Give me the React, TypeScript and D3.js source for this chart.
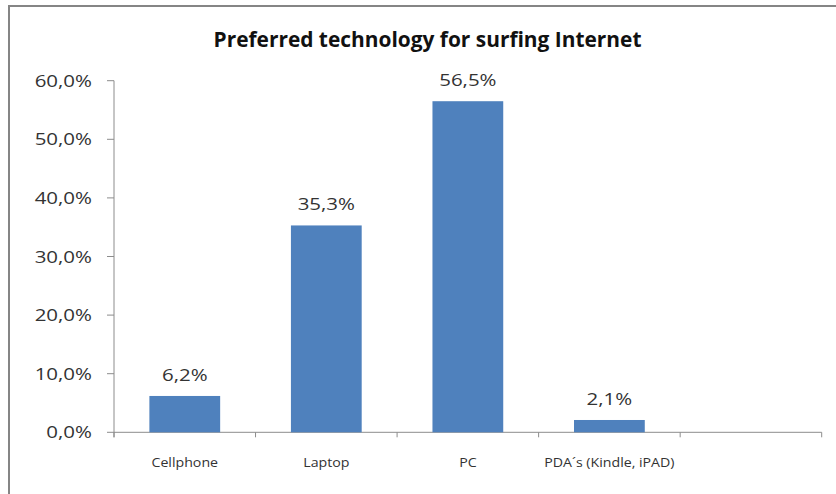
import React from "react";
import * as d3 from "d3";

// Survey results: preferred device for browsing the web
const categories = ["Cellphone", "Laptop", "PC", "PDA´s (Kindle, iPAD)", ""];
const shares = [6.2, 35.3, 56.5, 2.1, null];
const yTicks = [0, 10, 20, 30, 40, 50, 60];
const title = "Preferred technology for surfing Internet";

const W = 836;
const H = 494;
const plot = { left: 114, right: 821.7, top: 80.7, bottom: 432.3 };
const FONT = "'Open Sans', 'Noto Sans', sans-serif";
const TEXT = "#333333";
const AXIS = "#8c8c8c";
const BAR = "#4f81bd";
const SX = 1.22; // horizontal stretch applied to text

const fmt = (v: number) => v.toFixed(1).replace(".", ",") + "%";

export default function App() {
  const x = d3
    .scaleBand<string>()
    .domain(categories.map((c, i) => String(i)))
    .range([plot.left, plot.right])
    .paddingInner(0.5)
    .paddingOuter(0.25);
  const y = d3.scaleLinear().domain([0, 60]).range([plot.bottom, plot.top]);
  const step = x.step();
  const boundaries = d3.range(categories.length + 1).map((i) => plot.left + i * step);

  return (
    <svg
      width={W}
      height={H}
      style={{ position: "absolute", left: 0, top: 0, background: "#fff" }}
      fontFamily={FONT}
    >
      <rect x={9} y={6} width={W} height={H} fill="#fff" stroke="#858585" strokeWidth={2} />

      <text
        transform={`translate(${427.5},${47.3}) scale(1.02,1)`}
        textAnchor="middle"
        fontSize={20.5}
        fontWeight="bold"
        fill="#111"
      >
        {title}
      </text>

      {/* y axis */}
      <line x1={plot.left} x2={plot.left} y1={plot.top} y2={plot.bottom + 5} stroke={AXIS} />
      {yTicks.map((t) => (
        <g key={t}>
          <line x1={plot.left - 7} x2={plot.left} y1={y(t)} y2={y(t)} stroke={AXIS} />
          <text
            transform={`translate(${92},${y(t) + 6}) scale(${SX},1)`}
            textAnchor="end"
            fontSize={16.8}
            fill={TEXT}
          >
            {fmt(t)}
          </text>
        </g>
      ))}

      {/* x axis */}
      <line x1={plot.left} x2={plot.right} y1={plot.bottom} y2={plot.bottom} stroke={AXIS} />
      {boundaries.map((bx, i) => (
        <line key={i} x1={bx} x2={bx} y1={plot.bottom} y2={plot.bottom + 5} stroke={AXIS} />
      ))}
      {categories.map((c, i) => (
        <text
          key={i}
          transform={`translate(${x(String(i))! + x.bandwidth() / 2},${467}) scale(1.05,1)`}
          textAnchor="middle"
          fontSize={13.5}
          fill={TEXT}
        >
          {c}
        </text>
      ))}

      {/* bars and value labels */}
      {shares.map((v, i) =>
        v == null ? null : (
          <g key={i}>
            <rect
              x={x(String(i))}
              y={y(v)}
              width={x.bandwidth()}
              height={plot.bottom - y(v)}
              fill={BAR}
            />
            <text
              transform={`translate(${x(String(i))! + x.bandwidth() / 2},${y(v) - 15}) scale(${SX},1)`}
              textAnchor="middle"
              fontSize={16.8}
              fill={TEXT}
            >
              {fmt(v)}
            </text>
          </g>
        )
      )}
    </svg>
  );
}
